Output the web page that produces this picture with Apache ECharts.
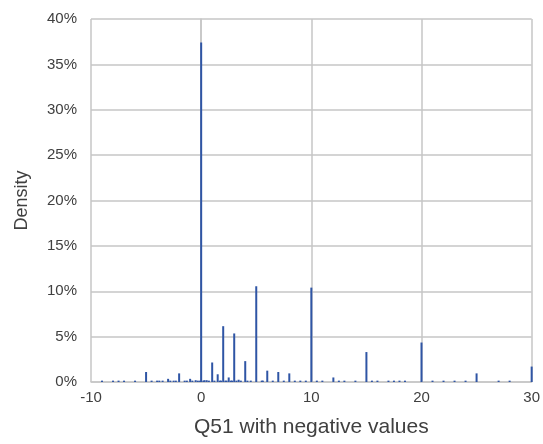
<!DOCTYPE html>
<html>
<head>
<meta charset="utf-8">
<script src="https://cdn.jsdelivr.net/npm/echarts@6/dist/echarts.min.js"></script>
<style>
html,body{margin:0;padding:0;background:#fff;}
#chart{width:543px;height:444px;}
</style>
</head>
<body>
<div id="chart"></div>
<script>
// Q51 values (x) and density in percent (y)
var q51Values = [-9,-8,-7.5,-7,-6,-5,-4.5,-4,-3.8,-3.5,-3,-2.8,-2.5,-2.3,-2,-1.5,-1.3,-1,-0.8,-0.5,-0.3,-0.1,
  0,0.2,0.3,0.5,0.7,1,1.2,1.5,1.7,1.8,2,2.2,2.3,2.5,2.7,2.8,3,3.2,3.4,3.6,4,4.2,4.5,
  5,5.5,5.6,6,6.5,7,7.5,8,8.5,9,9.5,10,10.5,11,12,12.5,13,14,15,15.5,16,17,17.5,18,18.5,
  20,21,22,23,24,25,27,28,30];
var densityPct = [0.15,0.15,0.15,0.15,0.15,1.1,0.15,0.15,0.15,0.15,0.35,0.15,0.15,0.15,0.95,0.15,0.15,0.35,0.15,0.2,0.15,0.15,
  37.4,0.15,0.2,0.2,0.15,2.15,0.15,0.85,0.15,0.15,6.15,0.15,0.15,0.5,0.15,0.15,5.35,0.15,0.25,0.15,2.3,0.15,0.15,
  10.55,0.15,0.15,1.25,0.15,1.1,0.15,0.95,0.15,0.15,0.15,10.4,0.15,0.15,0.5,0.15,0.15,0.15,3.3,0.15,0.15,0.15,0.15,0.15,0.15,
  4.35,0.15,0.15,0.15,0.15,0.95,0.15,0.15,1.7];
var xTicks = {min: -10, max: 30, interval: 10};
var yTicks = {min: 0, max: 40, interval: 5};

var seriesData = q51Values.map(function(v, i){ return [v, densityPct[i]]; });

var chart = echarts.init(document.getElementById('chart'), null, {renderer: 'canvas'});
var textColor = '#404040';
var gridColor = '#c6c6c6';
chart.setOption({
  animation: false,
  backgroundColor: '#ffffff',
  grid: {left: 91, right: 10, top: 19, bottom: 62, containLabel: false},
  xAxis: {
    type: 'value', min: xTicks.min, max: xTicks.max, interval: xTicks.interval,
    name: 'Q51 with negative values', nameLocation: 'middle', nameGap: 35,
    nameTextStyle: {fontFamily: 'Liberation Sans', fontSize: 21, color: textColor},
    axisLine: {show: true, onZero: false, lineStyle: {color: gridColor, width: 1.5}},
    axisTick: {show: false},
    axisLabel: {fontFamily: 'Liberation Sans', fontSize: 15, color: textColor, margin: 8},
    splitLine: {show: true, lineStyle: {color: gridColor, width: 1.5}}
  },
  yAxis: {
    type: 'value', min: yTicks.min, max: yTicks.max, interval: yTicks.interval,
    name: 'Density', nameLocation: 'middle', nameGap: 60, nameRotate: 90,
    nameTextStyle: {fontFamily: 'Liberation Sans', fontSize: 18, color: textColor},
    axisLine: {show: true, lineStyle: {color: gridColor, width: 1.5}},
    axisTick: {show: false},
    axisLabel: {fontFamily: 'Liberation Sans', fontSize: 15, color: textColor, margin: 14, formatter: '{value}%'},
    splitLine: {show: true, lineStyle: {color: gridColor, width: 1.5}}
  },
  series: [{
    type: 'bar',
    data: seriesData,
    barWidth: 2,
    clip: false,
    itemStyle: {color: '#2f55a5'}
  }]
});
</script>
</body>
</html>
